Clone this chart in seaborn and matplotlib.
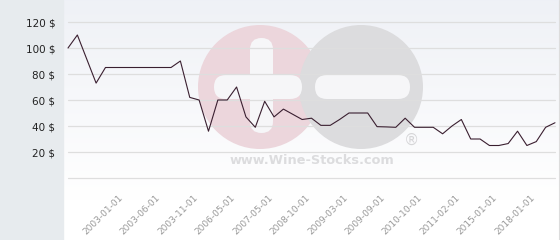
import numpy as np
import pandas as pd
import matplotlib
matplotlib.use("Agg")
import matplotlib.pyplot as plt
import matplotlib.transforms as mtransforms
import seaborn as sns
from matplotlib.patches import Circle, FancyBboxPatch, Rectangle

# ---- data ----
prices = [100, 110, 91.5, 73, 85, 85, 85, 85, 85, 85, 85, 85, 90, 62, 60, 36, 60, 60, 70, 47,
          39, 59, 47, 53, 49, 45, 46, 40.5, 40.5, 45, 50, 50, 50, 39.5, 39.3, 39, 46, 39, 39, 39,
          34, 40, 45, 30, 30, 25, 25, 26.5, 36, 25, 28, 39, 42.5]
tick_labels = ["2003-01-01", "2003-06-01", "2003-11-01", "2006-05-01", "2007-05-01", "2008-10-01",
               "2009-03-01", "2009-09-01", "2010-10-01", "2011-02-01", "2015-01-01", "2018-01-01"]
y_ticks = [20, 40, 60, 80, 100, 120]

df = pd.DataFrame({"idx": np.arange(len(prices)), "price": prices})

sns.set_theme(style="white")
plt.rcParams['font.family'] = ['DejaVu Sans']

W, H = 560, 240
fig = plt.figure(figsize=(W / 100, H / 100), dpi=100)

# background axes in pixel coordinates
bg = fig.add_axes([0, 0, 1, 1], zorder=0)
bg.set_xlim(0, W)
bg.set_ylim(H, 0)
bg.axis("off")
grad = np.linspace(0, 1, 256)[:, None]
top = np.array([0.937, 0.945, 0.965])
bot = np.array([1.0, 1.0, 1.0])
img = top[None, None, :] * (1 - grad[..., None]) + bot[None, None, :] * grad[..., None]
img = np.clip(img.repeat(2, axis=1), 0, 1)
bg.imshow(img, extent=[63, W, 200, 0], aspect="auto", zorder=0)
bg.add_patch(Rectangle((63, 200), W - 63, 40, color="white", zorder=0))
bg.add_patch(Rectangle((0, 0), 63, H, color="#e7ebee", zorder=1))
bg.plot([558.5, 558.5], [0, H], color="#dcdcdc", lw=0.8, zorder=1)

# watermark
bg.add_patch(Circle((260, 87), 62, color="#ecd6dc", zorder=2, lw=0))
bg.add_patch(Circle((361, 87), 62, color="#dcdcde", zorder=3, lw=0))
bar_kw = dict(boxstyle="round,pad=0,rounding_size=12", color="#f6f6f8", lw=0, zorder=4)
bg.add_patch(FancyBboxPatch((214, 75), 88, 24, **bar_kw))
bg.add_patch(FancyBboxPatch((250, 38), 23, 95, boxstyle="round,pad=0,rounding_size=11.5",
                            color="#f6f6f8", lw=0, zorder=4))
bg.add_patch(FancyBboxPatch((315, 75), 95, 24, **bar_kw))
bg.text(312, 161, "www.Wine-Stocks.com", ha="center", va="center", fontsize=9.3,
        fontweight="bold", color="#dcdcde", zorder=4)
bg.text(412, 140, "®", ha="center", va="center", fontsize=11, color="#d6d6d8", zorder=4)

# main axes
ax = fig.add_axes([68 / W, 1 - 178 / H, (555 - 68) / W, (178 - 22) / H], zorder=2)
ax.patch.set_alpha(0)
ax.set_xlim(0, len(prices) - 1)
ax.set_ylim(0, 120)
for v in [0] + y_ticks:
    ax.axhline(v, color="#dedede", lw=0.9, zorder=1, clip_on=False)

sns.lineplot(data=df, x="idx", y="price", ax=ax, color="#3a1f30", lw=0.8, zorder=3)
for l in ax.lines:
    l.set_clip_on(False)

ax.set_yticks(y_ticks)
ax.set_yticklabels([f"{v} $" for v in y_ticks], fontsize=7.5, color="#222222")
ax.tick_params(axis="y", length=0, pad=9)
xt = list(range(6, len(prices), 4))[:len(tick_labels)]
ax.set_xticks(xt)
ax.set_xticklabels(tick_labels, rotation=45, ha="right", rotation_mode="anchor",
                   fontsize=6.5, color="#9a9a9a")
ax.tick_params(axis="x", length=0, pad=11)
offset = mtransforms.ScaledTranslation(-6 / 100, 0, fig.dpi_scale_trans)
for lbl in ax.get_xticklabels():
    lbl.set_transform(lbl.get_transform() + offset)
ax.set_xlabel("")
ax.set_ylabel("")
for s in ax.spines.values():
    s.set_visible(False)

fig.savefig("out.png", dpi=100)
